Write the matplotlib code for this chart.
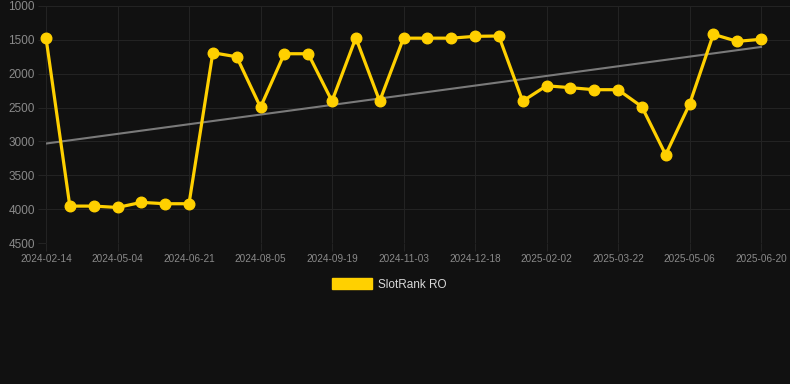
import matplotlib
matplotlib.use("Agg")
import matplotlib.pyplot as plt
from matplotlib.patches import Patch
import numpy as np

plt.rcParams['font.family'] = ['Liberation Sans', 'DejaVu Sans']

tick_labels = ["2024-02-14", "2024-05-04", "2024-06-21", "2024-08-05", "2024-09-19",
               "2024-11-03", "2024-12-18", "2025-02-02", "2025-03-22", "2025-05-06",
               "2025-06-20"]
values = [1470, 3955, 3955, 3975, 3900, 3920, 3920, 1690, 1750, 2495, 1705, 1705,
          2405, 1470, 2405, 1475, 1475, 1475, 1448, 1443, 2405, 2178, 2206, 2236,
          2236, 2487, 3196, 2452, 1418, 1522, 1492]
series_name = "SlotRank RO"
y_ticks = [1000, 1500, 2000, 2500, 3000, 3500, 4000, 4500]

BG = "#111111"
GRID = "#232323"
GOLD = "#FFD000"
TXT = "#8a8a8a"

W, H = 790, 384
fig = plt.figure(figsize=(W / 100, H / 100), dpi=100, facecolor=BG)
ax = fig.add_axes([46 / W, 1 - 243 / H, (790 - 46) / W, (243 - 6) / H])
ax.set_facecolor(BG)

x = np.arange(len(values))
vals = np.array(values, dtype=float)

# trend line
coef = np.polyfit(x, vals, 1)
ax.plot(x, np.polyval(coef, x), color="#7a7a7a", lw=1.5, zorder=2)

ax.plot(x, vals, color=GOLD, lw=2.3, marker="o", markersize=7.6,
        markerfacecolor=GOLD, markeredgecolor=GOLD, zorder=3, clip_on=False)

ax.set_ylim(4500, 1000)
ax.set_yticks(y_ticks)
ax.set_yticklabels([str(v) for v in y_ticks])
step = (761 - 46) / 30
ax.set_xlim(0, 30 + (790 - 761) / step)
ax.set_xticks(x[::3])
ax.set_xticklabels(tick_labels)

for s in ax.spines.values():
    s.set_visible(False)
ax.grid(True, color=GRID, lw=0.75)
ax.set_axisbelow(True)
ax.tick_params(axis='y', length=6, width=0.75, color=GRID, labelcolor=TXT, labelsize=8.5, pad=2)
ax.tick_params(axis='x', length=6, width=0.75, color=GRID, labelcolor=TXT, labelsize=7.2, pad=2)

leg = fig.legend(handles=[Patch(facecolor=GOLD, edgecolor=GOLD, label=series_name)],
                 loc='center', bbox_to_anchor=(389.5 / W, 1 - 284.5 / H),
                 frameon=False, fontsize=8.5, handlelength=3.4, handleheight=1.0,
                 handletextpad=0.5, labelcolor="#d8d8d8")

fig.savefig("out.png", dpi=100, facecolor=BG)
